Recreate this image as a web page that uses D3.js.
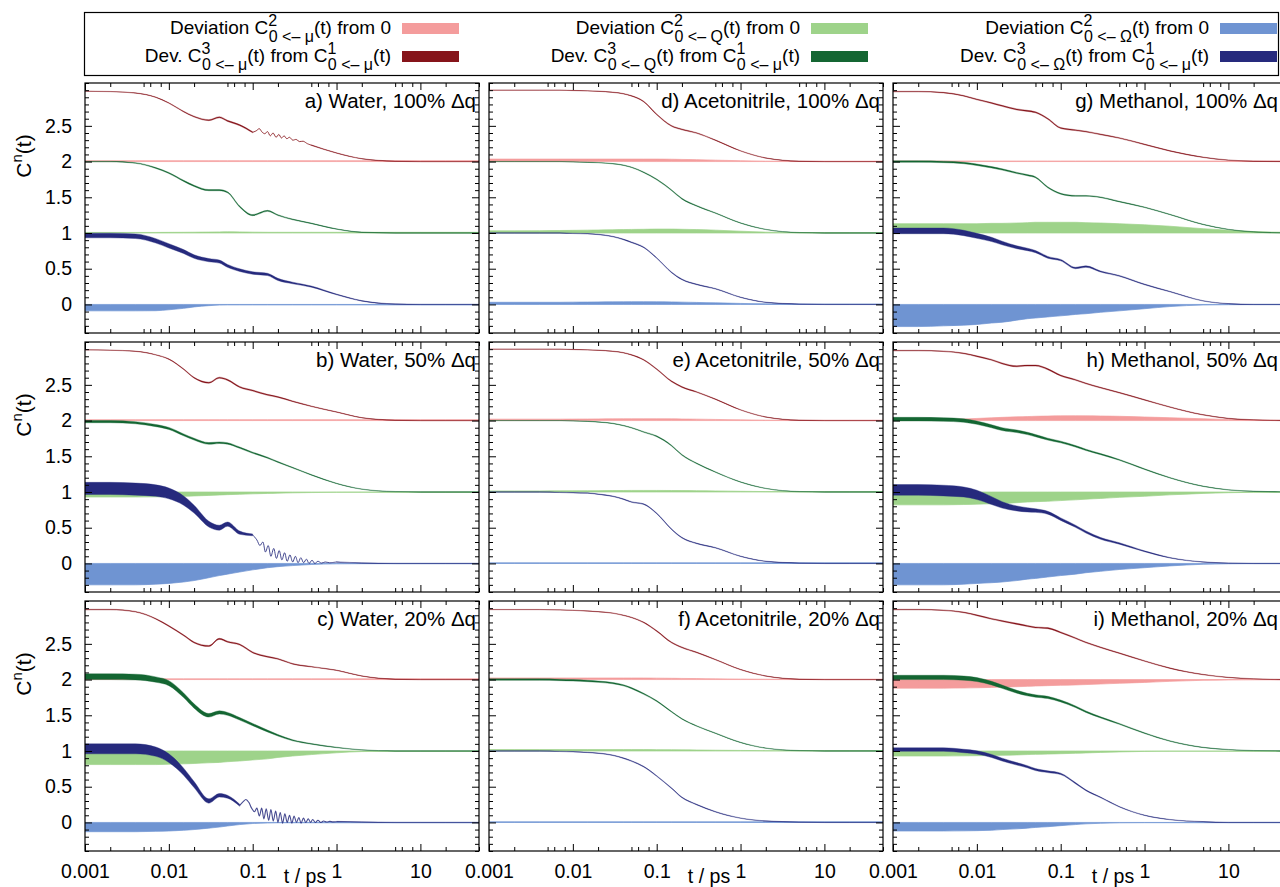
<!DOCTYPE html>
<html><head><meta charset="utf-8">
<script src="https://cdn.jsdelivr.net/npm/d3@7"></script>
<style>
body{margin:0;background:#fff}
text{font-family:"Liberation Sans",Arial,Helvetica,sans-serif;fill:#000}
</style></head>
<body><svg id="c" width="1280" height="887"></svg>
<script>
// ---------- data ----------
const T = [0.001,0.002,0.004,0.007,0.01,0.015,0.02,0.03,0.04,0.05,0.07,0.1,0.15,0.2,0.3,0.5,1,2,5,10,20,50];
const xTicks = [0.001,0.01,0.1,1,10];
const xTickLabels = ["0.001","0.01","0.1","1","10"];
const xMinorMult = [2,5,6,8];
const yTicks = [0,0.5,1,1.5,2,2.5];
const yTickLabels = ["0","0.5","1","1.5","2","2.5"];
const offsets = [2,1,0];
const panelTitles = ["a) Water, 100% Δq","b) Water, 50% Δq","c) Water, 20% Δq",
  "d) Acetonitrile, 100% Δq","e) Acetonitrile, 50% Δq","f) Acetonitrile, 20% Δq",
  "g) Methanol, 100% Δq","h) Methanol, 50% Δq","i) Methanol, 20% Δq"];
const legendTargets = ["μ","Q","Ω"];

// panel a
const aMu = [0.985,0.98,0.96,0.90,0.82,0.70,0.63,0.58,0.62,0.57,0.51,0.41,0.42,0.38,0.31,0.23,0.12,0.04,0.005,0,0,0];
const aMuW = [0.004,0.004,0.005,0.006,0.008,0.01,0.012,0.014,0.015,0.015,0.015,0.015,0.014,0.012,0.01,0.008,0.006,0.005,0.005,0.005,0.005,0.005];
const aMuDev = [0.012,0.012,0.012,0.012,0.012,0.012,0.012,0.012,0.012,0.012,0.012,0.012,0.012,0.012,0.012,0.012,0.012,0.012,0.012,0.012,0.012,0.012];
const aMuOscT = [0.1,0.11,0.12,0.13,0.14,0.15,0.162,0.175,0.19,0.205,0.22,0.237,0.255,0.275,0.3,0.33,0.36,0.4,0.45,0.5];
const aMuOscV = [0.41,0.43,0.46,0.41,0.39,0.42,0.36,0.40,0.34,0.38,0.33,0.36,0.32,0.34,0.30,0.31,0.28,0.285,0.25,0.23];
const aQ = [1.0,1.0,0.98,0.91,0.84,0.73,0.66,0.60,0.60,0.57,0.37,0.25,0.31,0.25,0.19,0.135,0.055,0.01,0,0,0,0];
const aQW = [0.008,0.008,0.01,0.012,0.014,0.015,0.016,0.016,0.016,0.016,0.016,0.015,0.014,0.012,0.01,0.008,0.006,0.005,0.005,0.005,0.005,0.005];
const aQDev = [0.008,0.008,0.008,0.008,0.009,0.01,0.011,0.013,0.015,0.017,0.015,0.012,0.01,0.01,0.01,0.01,0.01,0.01,0.01,0.01,0.01,0.01];
const aOm = [0.965,0.965,0.955,0.89,0.82,0.74,0.67,0.62,0.60,0.54,0.48,0.44,0.42,0.35,0.30,0.25,0.14,0.05,0.005,0,0,0];
const aOmW = [0.065,0.065,0.065,0.062,0.06,0.055,0.05,0.045,0.042,0.04,0.037,0.035,0.032,0.03,0.022,0.016,0.01,0.008,0.006,0.005,0.005,0.005];
const aOmDev = [-0.09,-0.09,-0.09,-0.088,-0.075,-0.055,-0.035,-0.017,-0.009,-0.007,-0.007,-0.007,-0.007,-0.007,-0.007,-0.007,-0.007,-0.007,-0.007,-0.007,-0.007,-0.007];
// panel b
const bMu = [0.99,0.985,0.97,0.92,0.86,0.72,0.60,0.53,0.60,0.57,0.47,0.42,0.36,0.33,0.27,0.20,0.12,0.04,0.005,0,0,0];
const bMuW = [0.004,0.004,0.005,0.006,0.008,0.01,0.012,0.014,0.015,0.015,0.015,0.015,0.014,0.012,0.01,0.008,0.006,0.005,0.005,0.005,0.005,0.005];
const bMuDev = [0.012,0.012,0.012,0.012,0.012,0.012,0.012,0.012,0.012,0.012,0.012,0.012,0.012,0.012,0.012,0.012,0.012,0.012,0.012,0.012,0.012,0.012];
const bQ = [0.985,0.985,0.97,0.93,0.89,0.80,0.74,0.68,0.69,0.68,0.62,0.55,0.48,0.42,0.34,0.24,0.12,0.04,0.005,0,0,0];
const bQW = [0.03,0.03,0.03,0.03,0.028,0.026,0.025,0.024,0.022,0.02,0.018,0.016,0.014,0.012,0.01,0.008,0.006,0.005,0.005,0.005,0.005,0.005];
const bQDev = [-0.07,-0.07,-0.07,-0.068,-0.065,-0.06,-0.055,-0.048,-0.042,-0.037,-0.032,-0.026,-0.02,-0.016,-0.012,-0.008,-0.005,-0.004,-0.004,-0.004,-0.004,-0.004];
const bOm = [1.05,1.05,1.04,1.02,0.98,0.88,0.76,0.55,0.50,0.55,0.43,0.40,0.25,0.18,0.12,0.06,0.02,0.005,0,0,0,0];
const bOmW = [0.17,0.17,0.17,0.16,0.15,0.13,0.11,0.08,0.07,0.06,0.045,0.025,0.02,0.02,0.02,0.015,0.01,0.006,0.005,0.005,0.005,0.005];
const bOmDev = [-0.30,-0.30,-0.30,-0.29,-0.28,-0.26,-0.24,-0.20,-0.17,-0.15,-0.12,-0.09,-0.06,-0.045,-0.03,-0.015,-0.006,-0.004,-0.004,-0.004,-0.004,-0.004];
const bOmOscT = [0.1,0.112,0.122,0.132,0.142,0.153,0.165,0.178,0.192,0.207,0.223,0.24,0.258,0.278,0.3,0.323,0.348,0.375,0.405,0.437,0.47,0.51,0.55,0.6,0.66,0.73,0.82,1.0];
const bOmOscV = [0.40,0.33,0.25,0.30,0.16,0.25,0.10,0.21,0.07,0.18,0.05,0.15,0.03,0.12,0.02,0.10,0.01,0.08,0.01,0.06,0.0,0.045,0.0,0.03,0.005,0.02,0.01,0.02];
// panel c
const cMu = [0.98,0.98,0.95,0.85,0.75,0.62,0.52,0.47,0.57,0.53,0.49,0.38,0.32,0.29,0.22,0.18,0.13,0.05,0.005,0,0,0];
const cMuW = [0.008,0.008,0.009,0.01,0.012,0.013,0.014,0.015,0.015,0.015,0.015,0.014,0.013,0.012,0.01,0.008,0.006,0.005,0.005,0.005,0.005,0.005];
const cMuDev = [0.01,0.01,0.01,0.01,0.01,0.01,0.01,0.01,0.01,0.01,0.01,0.01,0.01,0.01,0.01,0.01,0.01,0.01,0.01,0.01,0.01,0.01];
const cQ = [1.04,1.04,1.035,1.0,0.95,0.78,0.63,0.50,0.54,0.52,0.45,0.37,0.28,0.22,0.15,0.10,0.05,0.015,0,0,0,0];
const cQW = [0.08,0.08,0.08,0.075,0.07,0.065,0.06,0.05,0.045,0.04,0.035,0.03,0.025,0.02,0.015,0.01,0.008,0.005,0.005,0.005,0.005,0.005];
const cQDev = [-0.19,-0.19,-0.19,-0.19,-0.185,-0.18,-0.175,-0.165,-0.16,-0.15,-0.14,-0.125,-0.11,-0.09,-0.07,-0.05,-0.025,-0.008,-0.004,-0.004,-0.004,-0.004];
const cOm = [1.03,1.03,1.03,0.99,0.90,0.71,0.53,0.30,0.38,0.36,0.24,0.15,0.14,0.09,0.05,0.03,0.01,0.005,0,0,0,0];
const cOmW = [0.14,0.14,0.14,0.13,0.12,0.10,0.085,0.06,0.05,0.04,0.028,0.02,0.02,0.02,0.02,0.015,0.01,0.006,0.005,0.005,0.005,0.005];
const cOmDev = [-0.13,-0.13,-0.13,-0.125,-0.12,-0.11,-0.10,-0.08,-0.065,-0.05,-0.03,-0.015,-0.008,-0.005,-0.005,-0.005,-0.005,-0.005,-0.005,-0.005,-0.005,-0.005];
const cOmOscT = [0.07,0.077,0.083,0.09,0.097,0.105,0.112,0.12,0.128,0.136,0.145,0.155,0.165,0.176,0.188,0.2,0.213,0.227,0.242,0.258,0.275,0.293,0.312,0.333,0.355,0.378,0.403,0.43,0.46,0.49,0.52,0.56,0.6,0.65,0.7,0.76,0.83,0.9,1.0];
const cOmOscV = [0.24,0.29,0.32,0.28,0.20,0.15,0.20,0.09,0.20,0.05,0.19,0.03,0.18,0.02,0.16,0.0,0.14,-0.01,0.12,0.0,0.10,-0.01,0.09,0.0,0.07,-0.01,0.06,0.0,0.05,0.0,0.04,0.0,0.03,0.0,0.02,0.005,0.015,0.008,0.01];
// panel d
const dMu = [1.0,1.0,1.0,1.0,0.995,0.99,0.985,0.97,0.95,0.92,0.84,0.66,0.50,0.45,0.40,0.30,0.15,0.05,0.005,0,0,0];
const dMuW = [0.004,0.004,0.004,0.004,0.004,0.005,0.005,0.006,0.007,0.008,0.01,0.012,0.012,0.012,0.01,0.008,0.006,0.005,0.005,0.005,0.005,0.005];
const dMuDev = [0.035,0.035,0.035,0.035,0.035,0.035,0.035,0.035,0.035,0.035,0.035,0.035,0.033,0.03,0.027,0.02,0.012,0.006,0.004,0.004,0.004,0.004];
const dQ = [1.0,1.0,1.0,1.0,0.995,0.99,0.985,0.97,0.95,0.92,0.85,0.75,0.60,0.48,0.38,0.28,0.14,0.05,0.005,0,0,0];
const dQW = [0.004,0.004,0.004,0.004,0.004,0.005,0.005,0.006,0.007,0.008,0.01,0.012,0.012,0.012,0.01,0.008,0.006,0.005,0.005,0.005,0.005,0.005];
const dQDev = [0.03,0.03,0.032,0.035,0.037,0.04,0.042,0.045,0.048,0.05,0.052,0.055,0.055,0.052,0.048,0.04,0.025,0.012,0.006,0.004,0.004,0.004];
const dOm = [1.0,1.0,1.0,1.0,0.995,0.99,0.98,0.95,0.91,0.87,0.80,0.65,0.45,0.35,0.28,0.22,0.10,0.03,0.005,0,0,0];
const dOmW = [0.006,0.006,0.006,0.006,0.006,0.006,0.007,0.008,0.009,0.01,0.01,0.01,0.01,0.01,0.009,0.008,0.006,0.005,0.005,0.005,0.005,0.005];
const dOmDev = [0.03,0.03,0.03,0.03,0.032,0.033,0.035,0.036,0.037,0.038,0.038,0.037,0.035,0.032,0.028,0.022,0.014,0.008,0.005,0.004,0.004,0.004];
// panel e
const eMu = [1.0,1.0,1.0,1.0,0.995,0.99,0.985,0.97,0.95,0.92,0.85,0.72,0.55,0.47,0.40,0.30,0.15,0.05,0.005,0,0,0];
const eMuW = [0.004,0.004,0.004,0.004,0.004,0.005,0.005,0.006,0.007,0.008,0.01,0.012,0.012,0.012,0.01,0.008,0.006,0.005,0.005,0.005,0.005,0.005];
const eMuDev = [0.02,0.02,0.02,0.02,0.021,0.022,0.023,0.024,0.025,0.025,0.025,0.025,0.024,0.022,0.02,0.016,0.01,0.006,0.004,0.004,0.004,0.004];
const eQ = [1.0,1.0,1.0,1.0,0.995,0.99,0.98,0.96,0.93,0.90,0.84,0.78,0.65,0.52,0.40,0.28,0.14,0.05,0.005,0,0,0];
const eQW = [0.004,0.004,0.004,0.004,0.004,0.005,0.005,0.006,0.007,0.008,0.01,0.012,0.012,0.012,0.01,0.008,0.006,0.005,0.005,0.005,0.005,0.005];
const eQDev = [0.015,0.015,0.015,0.016,0.017,0.018,0.019,0.02,0.021,0.022,0.022,0.022,0.021,0.02,0.018,0.015,0.01,0.006,0.004,0.004,0.004,0.004];
const eOm = [1.0,1.0,1.0,0.995,0.99,0.985,0.97,0.94,0.90,0.86,0.83,0.70,0.48,0.36,0.28,0.22,0.10,0.03,0.005,0,0,0];
const eOmW = [0.006,0.006,0.006,0.006,0.006,0.006,0.007,0.008,0.009,0.01,0.01,0.01,0.01,0.01,0.009,0.008,0.006,0.005,0.005,0.005,0.005,0.005];
const eOmDev = [0.008,0.008,0.008,0.008,0.008,0.008,0.008,0.008,0.008,0.008,0.008,0.008,0.008,0.008,0.008,0.008,0.008,0.008,0.008,0.008,0.008,0.008];
// panel f
const fMu = [0.98,0.98,0.98,0.975,0.97,0.96,0.95,0.93,0.90,0.87,0.80,0.68,0.52,0.45,0.38,0.28,0.14,0.05,0.005,0,0,0];
const fMuW = [0.004,0.004,0.004,0.004,0.004,0.005,0.005,0.006,0.007,0.008,0.01,0.012,0.012,0.012,0.01,0.008,0.006,0.005,0.005,0.005,0.005,0.005];
const fMuDev = [0.022,0.022,0.022,0.022,0.022,0.022,0.022,0.022,0.022,0.022,0.022,0.02,0.018,0.016,0.014,0.01,0.007,0.005,0.004,0.004,0.004,0.004];
const fQ = [1.0,1.0,1.0,0.995,0.99,0.98,0.97,0.95,0.92,0.88,0.80,0.70,0.55,0.45,0.35,0.25,0.12,0.04,0.005,0,0,0];
const fQW = [0.02,0.02,0.02,0.02,0.02,0.019,0.018,0.017,0.016,0.015,0.014,0.012,0.01,0.009,0.008,0.007,0.006,0.005,0.005,0.005,0.005,0.005];
const fQDev = [0.02,0.02,0.02,0.02,0.02,0.02,0.02,0.02,0.02,0.02,0.02,0.019,0.018,0.016,0.014,0.011,0.008,0.005,0.004,0.004,0.004,0.004];
const fOm = [1.0,1.0,1.0,0.995,0.99,0.98,0.97,0.94,0.90,0.86,0.78,0.65,0.48,0.35,0.25,0.15,0.06,0.02,0.005,0,0,0];
const fOmW = [0.006,0.006,0.006,0.006,0.006,0.006,0.007,0.008,0.009,0.01,0.01,0.01,0.01,0.01,0.009,0.008,0.006,0.005,0.005,0.005,0.005,0.005];
const fOmDev = [0.008,0.008,0.008,0.008,0.008,0.008,0.008,0.008,0.008,0.008,0.008,0.008,0.008,0.008,0.008,0.008,0.008,0.008,0.008,0.008,0.008,0.008];
// panel g
const gMu = [0.98,0.98,0.965,0.92,0.87,0.82,0.78,0.73,0.71,0.69,0.60,0.47,0.44,0.42,0.38,0.33,0.24,0.15,0.06,0.02,0.005,0];
const gMuW = [0.008,0.008,0.009,0.01,0.012,0.013,0.014,0.015,0.015,0.015,0.015,0.014,0.013,0.012,0.011,0.01,0.009,0.008,0.007,0.006,0.005,0.005];
const gMuDev = [0.008,0.008,0.008,0.008,0.008,0.008,0.008,0.008,0.008,0.008,0.008,0.008,0.008,0.008,0.008,0.008,0.008,0.008,0.008,0.008,0.008,0.008];
const gQ = [1.0,1.0,0.995,0.98,0.955,0.92,0.89,0.84,0.81,0.78,0.64,0.55,0.52,0.52,0.50,0.44,0.36,0.26,0.12,0.05,0.015,0];
const gQW = [0.02,0.02,0.02,0.02,0.02,0.019,0.018,0.017,0.016,0.015,0.014,0.013,0.012,0.011,0.01,0.009,0.008,0.007,0.006,0.005,0.005,0.005];
const gQDev = [0.13,0.13,0.13,0.13,0.13,0.135,0.135,0.14,0.145,0.15,0.15,0.15,0.15,0.145,0.14,0.13,0.115,0.095,0.06,0.04,0.02,0.01];
const gOm = [1.03,1.03,1.03,1.0,0.96,0.91,0.86,0.80,0.77,0.74,0.66,0.62,0.51,0.53,0.46,0.40,0.28,0.18,0.05,0.01,0,0];
const gOmW = [0.08,0.08,0.08,0.075,0.07,0.06,0.05,0.04,0.035,0.03,0.025,0.02,0.02,0.02,0.015,0.012,0.01,0.008,0.006,0.005,0.005,0.005];
const gOmDev = [-0.31,-0.31,-0.30,-0.29,-0.28,-0.26,-0.25,-0.22,-0.20,-0.19,-0.175,-0.16,-0.14,-0.13,-0.11,-0.09,-0.06,-0.03,-0.008,-0.004,-0.003,-0.003];
// panel h
const hMu = [0.98,0.98,0.97,0.94,0.90,0.85,0.80,0.76,0.77,0.77,0.72,0.63,0.57,0.52,0.46,0.39,0.29,0.19,0.08,0.03,0.01,0];
const hMuW = [0.008,0.008,0.009,0.01,0.012,0.013,0.014,0.015,0.015,0.015,0.015,0.014,0.013,0.012,0.011,0.01,0.009,0.008,0.007,0.006,0.005,0.005];
const hMuDev = [0.008,0.01,0.015,0.022,0.03,0.038,0.045,0.052,0.056,0.06,0.063,0.066,0.067,0.066,0.064,0.06,0.05,0.04,0.025,0.015,0.008,0.004];
const hQ = [1.02,1.02,1.015,1.0,0.97,0.92,0.88,0.85,0.82,0.79,0.74,0.70,0.64,0.59,0.53,0.45,0.32,0.20,0.08,0.03,0.01,0];
const hQW = [0.05,0.05,0.05,0.048,0.046,0.043,0.04,0.036,0.033,0.03,0.027,0.024,0.02,0.018,0.015,0.012,0.01,0.008,0.006,0.005,0.005,0.005];
const hQDev = [-0.18,-0.18,-0.18,-0.175,-0.17,-0.165,-0.16,-0.15,-0.14,-0.135,-0.13,-0.12,-0.11,-0.10,-0.09,-0.075,-0.06,-0.04,-0.02,-0.01,-0.005,-0.003];
const hOm = [1.03,1.03,1.02,1.0,0.96,0.88,0.82,0.77,0.75,0.74,0.71,0.62,0.52,0.44,0.35,0.28,0.17,0.08,0.02,0.005,0,0];
const hOmW = [0.15,0.15,0.15,0.14,0.13,0.11,0.09,0.07,0.06,0.05,0.04,0.035,0.03,0.028,0.025,0.02,0.012,0.008,0.005,0.005,0.005,0.005];
const hOmDev = [-0.30,-0.30,-0.30,-0.29,-0.28,-0.27,-0.26,-0.24,-0.22,-0.21,-0.19,-0.17,-0.15,-0.13,-0.11,-0.085,-0.06,-0.035,-0.012,-0.005,-0.003,-0.003];
// panel i
const iMu = [0.98,0.98,0.97,0.94,0.90,0.85,0.82,0.78,0.75,0.73,0.72,0.66,0.58,0.52,0.45,0.37,0.26,0.16,0.07,0.03,0.01,0];
const iMuW = [0.008,0.008,0.009,0.01,0.012,0.013,0.014,0.015,0.015,0.015,0.015,0.014,0.013,0.012,0.011,0.01,0.009,0.008,0.007,0.006,0.005,0.005];
const iMuDev = [-0.12,-0.12,-0.12,-0.118,-0.115,-0.11,-0.105,-0.10,-0.095,-0.09,-0.085,-0.08,-0.075,-0.07,-0.062,-0.052,-0.04,-0.025,-0.01,-0.005,-0.003,-0.003];
const iQ = [1.03,1.03,1.03,1.02,1.0,0.95,0.90,0.83,0.79,0.77,0.75,0.70,0.62,0.55,0.47,0.38,0.25,0.14,0.05,0.02,0.005,0];
const iQW = [0.06,0.06,0.06,0.058,0.055,0.05,0.046,0.04,0.036,0.033,0.03,0.026,0.022,0.019,0.016,0.013,0.01,0.008,0.006,0.005,0.005,0.005];
const iQDev = [-0.07,-0.07,-0.07,-0.068,-0.066,-0.063,-0.06,-0.055,-0.05,-0.047,-0.043,-0.038,-0.032,-0.027,-0.02,-0.013,-0.006,-0.004,-0.004,-0.004,-0.004,-0.004];
const iOm = [1.02,1.02,1.02,1.0,0.98,0.93,0.88,0.82,0.78,0.74,0.71,0.68,0.55,0.45,0.35,0.22,0.10,0.04,0.01,0,0,0];
const iOmW = [0.05,0.05,0.05,0.048,0.046,0.043,0.04,0.035,0.03,0.028,0.025,0.02,0.015,0.012,0.01,0.008,0.006,0.005,0.005,0.005,0.005,0.005];
const iOmDev = [-0.12,-0.12,-0.12,-0.118,-0.115,-0.11,-0.10,-0.09,-0.08,-0.07,-0.06,-0.045,-0.03,-0.02,-0.012,-0.006,-0.004,-0.004,-0.004,-0.004,-0.004,-0.004];

// ---------- layout / style ----------
const lightCol = ["#f49c9c","#9ed38a","#6f94d2"];
const darkCol = ["#86141a","#146632","#262a7d"];
const colLeft = [85,489,893], rowTop = [83,342,601];
const PW = 394, PH = 250;
const FONT = 19, TITLEF = 20.5, TICKF = 19.5, SUBF = 16, YLF = 21;

const panels = [
  [[aMu,aMuW,aMuDev],[aQ,aQW,aQDev],[aOm,aOmW,aOmDev]],
  [[bMu,bMuW,bMuDev],[bQ,bQW,bQDev],[bOm,bOmW,bOmDev]],
  [[cMu,cMuW,cMuDev],[cQ,cQW,cQDev],[cOm,cOmW,cOmDev]],
  [[dMu,dMuW,dMuDev],[dQ,dQW,dQDev],[dOm,dOmW,dOmDev]],
  [[eMu,eMuW,eMuDev],[eQ,eQW,eQDev],[eOm,eOmW,eOmDev]],
  [[fMu,fMuW,fMuDev],[fQ,fQW,fQDev],[fOm,fOmW,fOmDev]],
  [[gMu,gMuW,gMuDev],[gQ,gQW,gQDev],[gOm,gOmW,gOmDev]],
  [[hMu,hMuW,hMuDev],[hQ,hQW,hQDev],[hOm,hOmW,hOmDev]],
  [[iMu,iMuW,iMuDev],[iQ,iQW,iQDev],[iOm,iOmW,iOmDev]]
];
// fast oscillating stretches drawn as a thin line instead of a band
const oscTable = [
  {p:0, k:0, t:aMuOscT, v:aMuOscV, w:1.0},
  {p:1, k:2, t:bOmOscT, v:bOmOscV, w:1.0},
  {p:2, k:2, t:cOmOscT, v:cOmOscV, w:1.1}
];

const svg = d3.select("#c");
svg.append("rect").attr("width",1280).attr("height",887).attr("fill","#fff");

const x = d3.scaleLog().domain([0.001,50]).range([0,PW]);
const y = d3.scaleLinear().domain([-0.4,3.1]).range([PH,0]);
const xMinor = [];
xTicks.forEach(t=>xMinorMult.forEach(m=>{ if(t*m<=50) xMinor.push(t*m); }));
const yMinor = d3.range(-4,32).map(k=>k/10).filter(v=>!yTicks.some(t=>Math.abs(t-v)<1e-9));

function styleAxis(g){
  g.select(".domain").remove();
  g.selectAll("line").attr("stroke","#000").attr("stroke-width",1);
  g.selectAll("text").attr("font-size",TICKF).attr("font-family","Liberation Sans, Arial, sans-serif").attr("fill","#000");
}

panels.forEach((series,p)=>{
  const col = Math.floor(p/3), row = p%3;
  const g = svg.append("g").attr("transform",`translate(${colLeft[col]},${rowTop[row]})`);
  const clipId = "clip"+p;
  g.append("clipPath").attr("id",clipId).append("rect").attr("width",PW).attr("height",PH);
  const plot = g.append("g").attr("clip-path",`url(#${clipId})`);

  series.forEach(([c,w,dev],k)=>{
    const off = offsets[k];
    const osc = oscTable.find(o=>o.p===p && o.k===k);
    const s = osc ? osc.t[0] : Infinity, e = osc ? osc.t[osc.t.length-1] : Infinity;
    const band = d3.area().x(d=>x(d.t)).y0(d=>y(d.lo)).y1(d=>y(d.hi)).curve(d3.curveMonotoneX);
    const light = T.map((t,i)=>({t, lo:off, hi:off+dev[i]}));
    const dark = T.map((t,i)=>({t, lo:off+c[i]-w[i]/2, hi:off+c[i]+w[i]/2}));
    plot.append("path").attr("d",band(light)).attr("fill",lightCol[k])
      .attr("stroke",lightCol[k]).attr("stroke-width",0.7);
    const darkBand = d3.area().x(d=>x(d.t)).y0(d=>y(d.lo)).y1(d=>y(d.hi))
      .defined(d=> !(d.t > s && d.t < e)).curve(d3.curveMonotoneX);
    plot.append("path").attr("d",darkBand(dark)).attr("fill",darkCol[k])
      .attr("stroke",darkCol[k]).attr("stroke-width",0.5).attr("stroke-opacity",0.75);
    if(osc){
      const ln = d3.line().x((d,i)=>x(osc.t[i])).y(d=>y(off+d)).curve(d3.curveCatmullRom.alpha(0.5));
      plot.append("path").attr("d",ln(osc.v)).attr("fill","none")
        .attr("stroke",darkCol[k]).attr("stroke-width",osc.w).attr("stroke-opacity",0.85);
    }
  });

  const bottomMajor = d3.axisBottom(x).tickValues(xTicks).tickSize(-7).tickPadding(13)
    .tickFormat((d,i)=> row===2 ? xTickLabels[i] : "");
  g.append("g").attr("transform",`translate(0,${PH})`).call(bottomMajor).call(styleAxis);
  g.append("g").attr("transform",`translate(0,${PH})`)
    .call(d3.axisBottom(x).tickValues(xMinor).tickSize(-4).tickFormat("")).call(styleAxis);
  g.append("g").call(d3.axisTop(x).tickValues(xTicks).tickSize(-7).tickFormat("")).call(styleAxis);
  g.append("g").call(d3.axisTop(x).tickValues(xMinor).tickSize(-4).tickFormat("")).call(styleAxis);

  g.append("g").call(d3.axisLeft(y).tickValues(yTicks).tickSize(-7).tickPadding(13)
    .tickFormat((d,i)=> col===0 ? yTickLabels[i] : "")).call(styleAxis);
  g.append("g").call(d3.axisLeft(y).tickValues(yMinor).tickSize(-4).tickFormat("")).call(styleAxis);
  g.append("g").attr("transform",`translate(${PW},0)`)
    .call(d3.axisRight(y).tickValues(yTicks).tickSize(-7).tickFormat("")).call(styleAxis);
  g.append("g").attr("transform",`translate(${PW},0)`)
    .call(d3.axisRight(y).tickValues(yMinor).tickSize(-4).tickFormat("")).call(styleAxis);

  g.append("rect").attr("width",PW).attr("height",PH).attr("fill","none")
    .attr("stroke","#000").attr("stroke-width",1.2);

  const titleX = Math.min(PW-3, 1278-colLeft[col]);
  g.append("text").attr("x",titleX).attr("y",25).attr("text-anchor","end")
    .attr("font-size",TITLEF).text(panelTitles[p]);

  if(col===0){
    const yl = svg.append("text").attr("transform",`translate(31,${rowTop[row]+73}) rotate(-90)`)
      .attr("text-anchor","middle").attr("font-size",YLF);
    yl.append("tspan").text("C");
    yl.append("tspan").attr("font-size",15).attr("dy",-9).text("n");
    yl.append("tspan").attr("dy",9).text("(t)");
  }
  if(row===2){
    svg.append("text").attr("x",colLeft[col]+220).attr("y",883).attr("text-anchor","middle")
      .attr("font-size",TICKF).text("t / ps");
  }
});

// ---------- legend ----------
svg.append("rect").attr("x",84.5).attr("y",12.5).attr("width",1194).attr("height",63)
  .attr("fill","none").attr("stroke","#000").attr("stroke-width",1.2);
const swX = [402,811,1220], rowBase = [34,62];
legendTargets.forEach((tg,k)=>{
  const t1 = svg.append("text").attr("x",swX[k]-11).attr("y",rowBase[0]).attr("text-anchor","end").attr("font-size",FONT);
  t1.append("tspan").text("Deviation C");
  t1.append("tspan").attr("font-size",SUBF).attr("dy",-8).text("2");
  t1.append("tspan").attr("font-size",SUBF).attr("dx",-8.5).attr("dy",16).text("0 <– "+tg);
  t1.append("tspan").attr("dy",-8).text("(t) from 0");
  const t2 = svg.append("text").attr("x",swX[k]-11).attr("y",rowBase[1]).attr("text-anchor","end").attr("font-size",FONT);
  t2.append("tspan").text("Dev. C");
  t2.append("tspan").attr("font-size",SUBF).attr("dy",-8).text("3");
  t2.append("tspan").attr("font-size",SUBF).attr("dx",-8.5).attr("dy",16).text("0 <– "+tg);
  t2.append("tspan").attr("dy",-8).text("(t) from C");
  t2.append("tspan").attr("font-size",SUBF).attr("dy",-8).text("1");
  t2.append("tspan").attr("font-size",SUBF).attr("dx",-8.5).attr("dy",16).text("0 <– μ");
  t2.append("tspan").attr("dy",-8).text("(t)");
  svg.append("rect").attr("x",swX[k]).attr("y",rowBase[0]-11).attr("width",57).attr("height",11).attr("fill",lightCol[k]);
  svg.append("rect").attr("x",swX[k]).attr("y",rowBase[1]-11).attr("width",57).attr("height",11).attr("fill",darkCol[k]);
});
</script></body></html>
